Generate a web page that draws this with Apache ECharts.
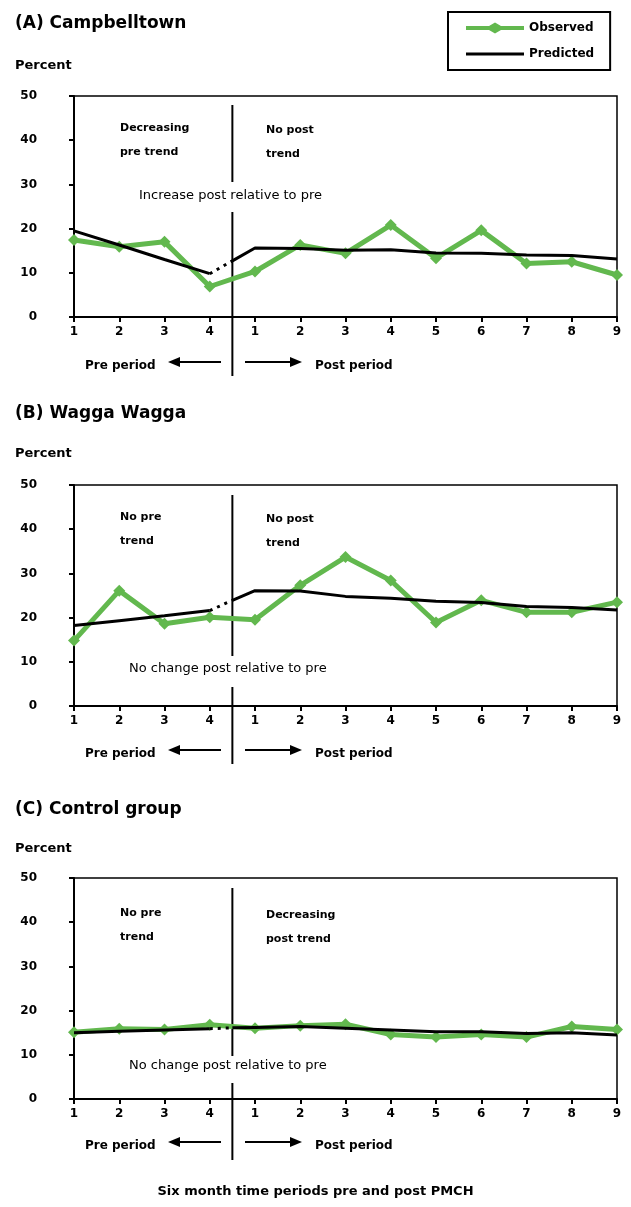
<!DOCTYPE html>
<html><head><meta charset="utf-8">
<script src="https://cdn.jsdelivr.net/npm/echarts@6/dist/echarts.min.js"></script>
<style>html,body{margin:0;padding:0;background:#fff}#c{width:631px;height:1207px}</style>
</head><body><div id="c"></div>
<script>
// ---- data ----
const preLabels = ['1','2','3','4'];
const postLabels = ['1','2','3','4','5','6','7','8','9'];
const tickLabels = preLabels.concat(postLabels);
const yTicks = [0,10,20,30,40,50];

const panelTitles = ['(A) Campbelltown','(B) Wagga Wagga','(C) Control group'];

const observedA = [17.4, 15.9, 17.0, 6.9, 10.3, 16.3, 14.4, 20.8, 13.3, 19.6, 12.1, 12.5, 9.5];
const predPreA  = [19.5, 16.3, 13.0, 9.8];
const predMidA  = 12.7;
const predPostA = [15.6, 15.5, 15.1, 15.2, 14.5, 14.4, 14.0, 13.9, 13.1];

const observedB = [14.8, 26.1, 18.6, 20.1, 19.5, 27.3, 33.7, 28.4, 18.9, 23.9, 21.2, 21.2, 23.5];
const predPreB  = [18.2, 19.3, 20.4, 21.6];
const predMidB  = 23.9;
const predPostB = [26.1, 26.0, 24.8, 24.4, 23.7, 23.4, 22.5, 22.3, 21.7];

const observedC = [15.1, 15.9, 15.7, 16.8, 16.0, 16.6, 16.9, 14.6, 14.0, 14.6, 14.0, 16.4, 15.7];
const predPreC  = [15.0, 15.3, 15.6, 15.9];
const predMidC  = 16.1;
const predPostC = [16.2, 16.4, 16.0, 15.6, 15.2, 15.2, 14.8, 15.0, 14.5];

const trendLabels = [
  ['Decreasing\npre trend', 'No post\ntrend', 'Increase post relative to pre'],
  ['No pre\ntrend', 'No post\ntrend', 'No change post relative to pre'],
  ['No pre\ntrend', 'Decreasing\npost trend', 'No change post relative to pre']
];
const xTitle = 'Six month time periods pre and post PMCH';
const divider = 3.5;

// ---- build ----
const GREEN = '#62b84e';
const FONT = 'DejaVu Sans';
const panels = [
  {obs: observedA, pre: predPreA, mid: predMidA, post: predPostA},
  {obs: observedB, pre: predPreB, mid: predMidB, post: predPostB},
  {obs: observedC, pre: predPreC, mid: predMidC, post: predPostC}
];
const gridTops = [96, 485, 878];
const gridH = 221;

const chart = echarts.init(document.getElementById('c'), null, {renderer: 'canvas'});

const grids = [], xAxes = [], yAxes = [], series = [];
panels.forEach((p, i) => {
  grids.push({left: 74, right: 14, top: gridTops[i], height: gridH, show: true,
    borderColor: '#000', borderWidth: 1.5, backgroundColor: 'transparent'});
  xAxes.push({type: 'value', gridIndex: i, min: 0, max: tickLabels.length - 1, interval: 1,
    axisLine: {onZero: false, lineStyle: {color: '#000', width: 2}},
    axisTick: {show: true, length: 5, lineStyle: {color: '#000', width: 2}},
    axisLabel: {color: '#000', fontFamily: FONT, fontWeight: 'bold', fontSize: 12, margin: 9,
      formatter: v => tickLabels[v] || ''},
    splitLine: {show: false}});
  yAxes.push({type: 'value', gridIndex: i, min: yTicks[0], max: yTicks[yTicks.length-1], interval: 10,
    axisLine: {show: true, lineStyle: {color: '#000', width: 2}},
    axisTick: {show: true, length: 5, lineStyle: {color: '#000', width: 2}},
    axisLabel: {color: '#000', fontFamily: FONT, fontWeight: 'bold', fontSize: 12, margin: 37},
    splitLine: {show: false}});
  series.push({name: 'Observed', type: 'line', xAxisIndex: i, yAxisIndex: i, z: 2,
    data: p.obs.map((v, k) => [k, v]),
    symbol: 'diamond', symbolSize: 12, showSymbol: true,
    lineStyle: {color: GREEN, width: 5}, itemStyle: {color: GREEN}, animation: false});
  series.push({name: 'Predicted', type: 'line', xAxisIndex: i, yAxisIndex: i, z: 3,
    data: p.pre.map((v, k) => [k, v]), symbol: 'none',
    lineStyle: {color: '#000', width: 3}, itemStyle: {color: '#000'}, animation: false});
  series.push({name: 'Predicted', type: 'line', xAxisIndex: i, yAxisIndex: i, z: 3,
    data: [[p.pre.length - 1, p.pre[p.pre.length - 1]], [divider, p.mid]], symbol: 'none',
    lineStyle: {color: '#000', width: 3, type: [3, 5]}, animation: false});
  series.push({name: 'Predicted', type: 'line', xAxisIndex: i, yAxisIndex: i, z: 3,
    data: [[divider, p.mid]].concat(p.post.map((v, k) => [p.pre.length + k, v])), symbol: 'none',
    lineStyle: {color: '#000', width: 3}, animation: false});
});

chart.setOption({
  animation: false,
  grid: grids, xAxis: xAxes, yAxis: yAxes, series: series,
  legend: {
    data: [
      {name: 'Observed', icon: 'path://M0,3.5 L23,3.5 L29,0 L35,3.5 L58,3.5 L58,7.5 L35,7.5 L29,11 L23,7.5 L0,7.5 Z',
       itemStyle: {color: GREEN}},
      {name: 'Predicted', icon: 'path://M0,0 L58,0 L58,3 L0,3 Z', itemStyle: {color: '#000'}}
    ],
    symbolKeepAspect: true,
    orient: 'vertical', left: 448, top: 12, width: 165,
    padding: [10, 16, 10, 18], itemGap: 14, itemWidth: 58, itemHeight: 11,
    borderColor: '#000', borderWidth: 2,
    textStyle: {color: '#000', fontFamily: FONT, fontWeight: 'bold', fontSize: 12},
    selectedMode: false
  }
});

// annotations
const graphic = [];
const bold = (x, y, text, size) => ({type: 'text', left: x, top: y,
  style: {text, fill: '#000', font: 'bold ' + size + 'px "' + FONT + '"', lineHeight: 24}});
const textOffsets = [
  {title: 12, pct: 54, tr: 116, mid: 189, lab: 354, vTop: 105, gapTop: 182, gapBot: 212, vBot: 376},
  {title: 402, pct: 442, tr: 505, mid: 662, lab: 742, vTop: 495, gapTop: 656, gapBot: 687, vBot: 764},
  {title: 798, pct: 837, tr: 901, mid: 1059, lab: 1134, vTop: 888, gapTop: 1056, gapBot: 1083, vBot: 1160}
];
panels.forEach((p, i) => {
  const o = textOffsets[i];
  const dx = chart.convertToPixel({gridIndex: i}, [divider, 0])[0];
  graphic.push(bold(15, o.title, panelTitles[i], 17));
  graphic.push(bold(15, o.pct, 'Percent', 13));
  graphic.push(bold(120, o.tr, trendLabels[i][0], 11));
  graphic.push(bold(266, o.tr + 2, trendLabels[i][1], 11));
  graphic.push({type: 'text', left: i === 0 ? 139 : 129, top: o.mid,
    style: {text: trendLabels[i][2], fill: '#000', font: '13px "' + FONT + '"'}});
  graphic.push({type: 'line', shape: {x1: dx, y1: o.vTop, x2: dx, y2: o.gapTop}, style: {stroke: '#000', lineWidth: 2}});
  graphic.push({type: 'line', shape: {x1: dx, y1: o.gapBot, x2: dx, y2: o.vBot}, style: {stroke: '#000', lineWidth: 2}});
  const ly = o.lab + 8;
  graphic.push(bold(85, o.lab, 'Pre period', 12));
  graphic.push({type: 'line', shape: {x1: 176, y1: ly, x2: 221, y2: ly}, style: {stroke: '#000', lineWidth: 2}});
  graphic.push({type: 'polygon', shape: {points: [[168, ly], [180, ly - 5], [180, ly + 5]]}, style: {fill: '#000'}});
  graphic.push({type: 'line', shape: {x1: 245, y1: ly, x2: 292, y2: ly}, style: {stroke: '#000', lineWidth: 2}});
  graphic.push({type: 'polygon', shape: {points: [[302, ly], [290, ly - 5], [290, ly + 5]]}, style: {fill: '#000'}});
  graphic.push(bold(315, o.lab, 'Post period', 12));
});
graphic.push({type: 'text', left: 'center', top: 1185,
  style: {text: xTitle, fill: '#000', font: 'bold 13px "' + FONT + '"'}});
chart.setOption({graphic: graphic});
</script></body></html>
